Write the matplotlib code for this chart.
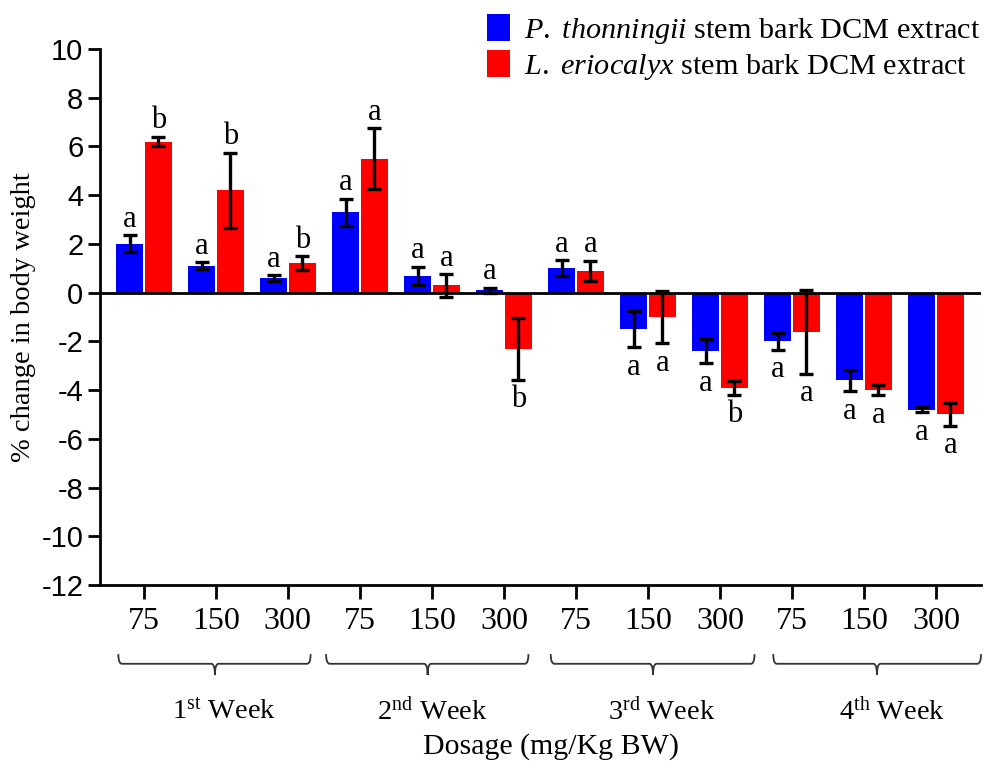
import matplotlib
matplotlib.use('Agg')
import matplotlib.pyplot as plt
import matplotlib.transforms as mtransforms
from matplotlib.path import Path
from matplotlib.patches import PathPatch
import numpy as np

plt.rcParams['font.family'] = 'Liberation Serif'
plt.rcParams['mathtext.fontset'] = 'custom'
plt.rcParams['mathtext.rm'] = 'Liberation Serif'
plt.rcParams['mathtext.it'] = 'Liberation Serif:italic'
plt.rcParams['axes.unicode_minus'] = False

# data
dosages = ['75', '150', '300'] * 4
weeks = ['1$^{\\mathrm{st}}$ Week', '2$^{\\mathrm{nd}}$ Week',
         '3$^{\\mathrm{rd}}$ Week', '4$^{\\mathrm{th}}$ Week']
pt_mean = [2.0, 1.1, 0.6, 3.3, 0.7, 0.1, 1.0, -1.5, -2.4, -2.0, -3.6, -4.8]
pt_err = [0.35, 0.15, 0.12, 0.55, 0.37, 0.11, 0.32, 0.73, 0.49, 0.35, 0.44, 0.12]
le_mean = [6.2, 4.2, 1.2, 5.5, 0.3, -2.3, 0.9, -1.0, -3.9, -1.6, -4.0, -5.0]
le_err = [0.2, 1.55, 0.29, 1.25, 0.46, 1.27, 0.41, 1.07, 0.29, 1.72, 0.2, 0.46]
pt_letters = ['a'] * 12
le_letters = ['b', 'b', 'b', 'a', 'a', 'b', 'a', 'a', 'b', 'a', 'a', 'a']
pt_label = '$\\it{P.\\ thonningii}$ stem bark DCM extract'
le_label = '$\\it{L.\\ eriocalyx}$ stem bark DCM extract'

# bracket / week label layout (relative to first tick of each week)
bracket_lo = [-0.355, -0.47, -0.35, -0.26]
bracket_hi = [2.315, 2.34, 2.48, 2.625]
bracket_mid = [0.986, 0.94, 1.07, 1.18]
week_x = [1.11, 1.0, 1.19, 1.39]

fig = plt.figure(figsize=(9.89, 7.62), dpi=100)
ax = fig.add_axes([0.1011, 0.2323, 0.8908, 0.7034])

x = np.arange(len(dosages))
w = 0.375
off = 0.2

err_kw = dict(ecolor='black', elinewidth=2.4, capsize=5, capthick=2.4)
b1 = ax.bar(x - off, pt_mean, w, color='#0000ff', yerr=pt_err, error_kw=err_kw, label=pt_label)
b2 = ax.bar(x + off, le_mean, w, color='#ff0000', yerr=le_err, error_kw=err_kw, label=le_label)

# significance letters
for xs, means, errs, letters in [(x - off, pt_mean, pt_err, pt_letters),
                                 (x + off, le_mean, le_err, le_letters)]:
    for xi, m, e, lt in zip(xs, means, errs, letters):
        if m >= 0:
            ax.annotate(lt, (xi, m + e), xytext=(0, 1), textcoords='offset points',
                        ha='center', va='bottom', fontsize=22)
        else:
            ax.annotate(lt, (xi, m - e), xytext=(0, -4), textcoords='offset points',
                        ha='center', va='top', fontsize=22)

ax.axhline(0, color='black', lw=2)

ax.set_xlim(-0.61, 11.625)
ax.set_ylim(-12, 10)
ax.set_yticks(np.arange(-12, 11, 2))
ax.set_xticks(x)
ax.set_xticklabels(dosages, fontsize=23)
for lab in ax.get_yticklabels():
    lab.set_fontfamily('Liberation Sans')
    lab.set_fontsize(21)
ax.tick_params(axis='y', length=9, width=2, pad=3)
ax.tick_params(axis='x', length=10, width=2, pad=6)
for s in ['top', 'right']:
    ax.spines[s].set_visible(False)
for s in ['left', 'bottom']:
    ax.spines[s].set_linewidth(2)

ax.set_ylabel('% change in body weight', fontsize=20.5, labelpad=4)

# week brackets below the dosage labels
trans = mtransforms.blended_transform_factory(ax.transData, ax.transAxes)
y_top, y_line, y_tip = -0.129, -0.147, -0.168
dx = 0.05
for g, wk in enumerate(weeks):
    x0, x1, xm = 3 * g + bracket_lo[g], 3 * g + bracket_hi[g], 3 * g + bracket_mid[g]
    verts = [(x0, y_top), (x0, y_line), (x0 + dx, y_line),
             (xm - dx, y_line), (xm, y_line), (xm, y_tip),
             (xm, y_line), (xm + dx, y_line),
             (x1 - dx, y_line), (x1, y_line), (x1, y_top)]
    codes = [Path.MOVETO, Path.CURVE3, Path.CURVE3,
             Path.LINETO, Path.CURVE3, Path.CURVE3,
             Path.CURVE3, Path.CURVE3,
             Path.LINETO, Path.CURVE3, Path.CURVE3]
    ax.add_patch(PathPatch(Path(verts, codes), transform=trans, fill=False,
                           lw=1.3, edgecolor='#333333', clip_on=False))
    ax.text(3 * g + week_x[g], -0.235, wk, transform=trans, ha='center', va='center',
            fontsize=20.5)

ax.text(0.512, -0.302, 'Dosage (mg/Kg BW)', transform=ax.transAxes,
        ha='center', va='center', fontsize=21.5)

fig.legend(handles=[b1, b2], loc='upper right', bbox_to_anchor=(1.0, 0.993),
           frameon=False, fontsize=21.8, handlelength=0.75, handleheight=0.95,
           handletextpad=0.45, labelspacing=0.15, borderaxespad=0.1, borderpad=0.2)

fig.savefig('out.png', dpi=100)
